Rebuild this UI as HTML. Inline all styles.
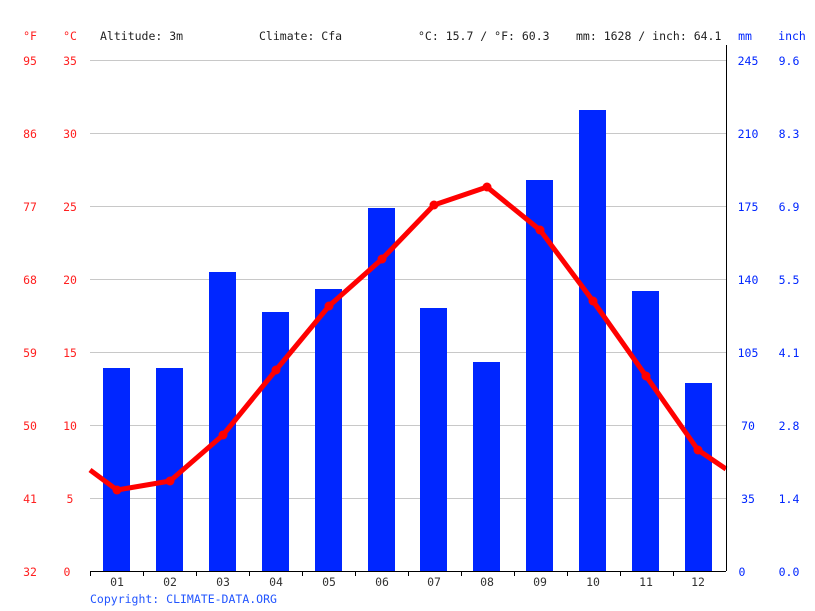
<!DOCTYPE html>
<html><head><meta charset="utf-8"><style>body{margin:0;background:#fff}svg{display:block}text{font-family:"DejaVu Sans Mono","Liberation Mono",monospace;font-size:11.5px}</style></head><body>
<svg width="815" height="611" xmlns="http://www.w3.org/2000/svg">
<g stroke="#c8c8c8" stroke-width="1">
<line x1="90" x2="726" y1="60.5" y2="60.5"/><line x1="90" x2="726" y1="133.5" y2="133.5"/><line x1="90" x2="726" y1="206.5" y2="206.5"/><line x1="90" x2="726" y1="279.5" y2="279.5"/><line x1="90" x2="726" y1="352.5" y2="352.5"/><line x1="90" x2="726" y1="425.5" y2="425.5"/><line x1="90" x2="726" y1="498.5" y2="498.5"/>
</g>
<g fill="#0026ff">
<rect x="103" y="368" width="27" height="203"/><rect x="156" y="368" width="27" height="203"/><rect x="209" y="272" width="27" height="299"/><rect x="262" y="312" width="27" height="259"/><rect x="315" y="289" width="27" height="282"/><rect x="368" y="208" width="27" height="363"/><rect x="420" y="308" width="27" height="263"/><rect x="473" y="362" width="27" height="209"/><rect x="526" y="180" width="27" height="391"/><rect x="579" y="110" width="27" height="461"/><rect x="632" y="291" width="27" height="280"/><rect x="685" y="383" width="27" height="188"/>
</g>
<polyline fill="none" stroke="#ff0000" stroke-width="5" stroke-linejoin="round" points="90,470 117,490 170,481 223,435 276,370 329,306 382,259 434,205 487,187 540,230 593,301 646,376 698,450 726,469"/>
<g fill="#ff0000"><circle cx="117" cy="490" r="4.5"/><circle cx="170" cy="481" r="4.5"/><circle cx="223" cy="435" r="4.5"/><circle cx="276" cy="370" r="4.5"/><circle cx="329" cy="306" r="4.5"/><circle cx="382" cy="259" r="4.5"/><circle cx="434" cy="205" r="4.5"/><circle cx="487" cy="187" r="4.5"/><circle cx="540" cy="230" r="4.5"/><circle cx="593" cy="301" r="4.5"/><circle cx="646" cy="376" r="4.5"/><circle cx="698" cy="450" r="4.5"/></g>
<g stroke="#000" stroke-width="1">
<line x1="90" x2="726" y1="571.5" y2="571.5"/><line x1="726.5" x2="726.5" y1="45" y2="571"/>
<line x1="90.5" x2="90.5" y1="571" y2="576"/><line x1="143.5" x2="143.5" y1="571" y2="576"/><line x1="196.5" x2="196.5" y1="571" y2="576"/><line x1="249.5" x2="249.5" y1="571" y2="576"/><line x1="302.5" x2="302.5" y1="571" y2="576"/><line x1="355.5" x2="355.5" y1="571" y2="576"/><line x1="408.5" x2="408.5" y1="571" y2="576"/><line x1="461.5" x2="461.5" y1="571" y2="576"/><line x1="514.5" x2="514.5" y1="571" y2="576"/><line x1="567.5" x2="567.5" y1="571" y2="576"/><line x1="620.5" x2="620.5" y1="571" y2="576"/><line x1="673.5" x2="673.5" y1="571" y2="576"/>
</g>
<g fill="#222">
<text x="100" y="40">Altitude: 3m</text><text x="259" y="40">Climate: Cfa</text><text x="418" y="40">°C: 15.7 / °F: 60.3</text><text x="576" y="40">mm: 1628 / inch: 64.1</text>
</g>
<g fill="#333" text-anchor="middle">
<text x="117" y="586">01</text><text x="170" y="586">02</text><text x="223" y="586">03</text><text x="276" y="586">04</text><text x="329" y="586">05</text><text x="382" y="586">06</text><text x="434" y="586">07</text><text x="487" y="586">08</text><text x="540" y="586">09</text><text x="593" y="586">10</text><text x="646" y="586">11</text><text x="698" y="586">12</text>
</g>
<text x="90" y="603" fill="#2255ff">Copyright: CLIMATE-DATA.ORG</text>
<g fill="#ff2020" text-anchor="middle">
<text x="30" y="40">°F</text><text x="70" y="40">°C</text>
<text x="30" y="65">95</text><text x="30" y="138">86</text><text x="30" y="211">77</text><text x="30" y="284">68</text><text x="30" y="357">59</text><text x="30" y="430">50</text><text x="30" y="503">41</text><text x="30" y="576">32</text>
<text x="70" y="65">35</text><text x="70" y="138">30</text><text x="70" y="211">25</text><text x="70" y="284">20</text><text x="70" y="357">15</text><text x="70" y="430">10</text><text x="70" y="503">5</text><text x="67" y="576">0</text>
</g>
<g fill="#0026ff" text-anchor="middle">
<text x="745" y="40">mm</text><text x="792" y="40">inch</text>
<text x="748" y="65">245</text><text x="748" y="138">210</text><text x="748" y="211">175</text><text x="748" y="284">140</text><text x="748" y="357">105</text><text x="748" y="430">70</text><text x="748" y="503">35</text><text x="742" y="576">0</text>
<text x="789" y="65">9.6</text><text x="789" y="138">8.3</text><text x="789" y="211">6.9</text><text x="789" y="284">5.5</text><text x="789" y="357">4.1</text><text x="789" y="430">2.8</text><text x="789" y="503">1.4</text><text x="789" y="576">0.0</text>
</g>
</svg>
</body></html>
